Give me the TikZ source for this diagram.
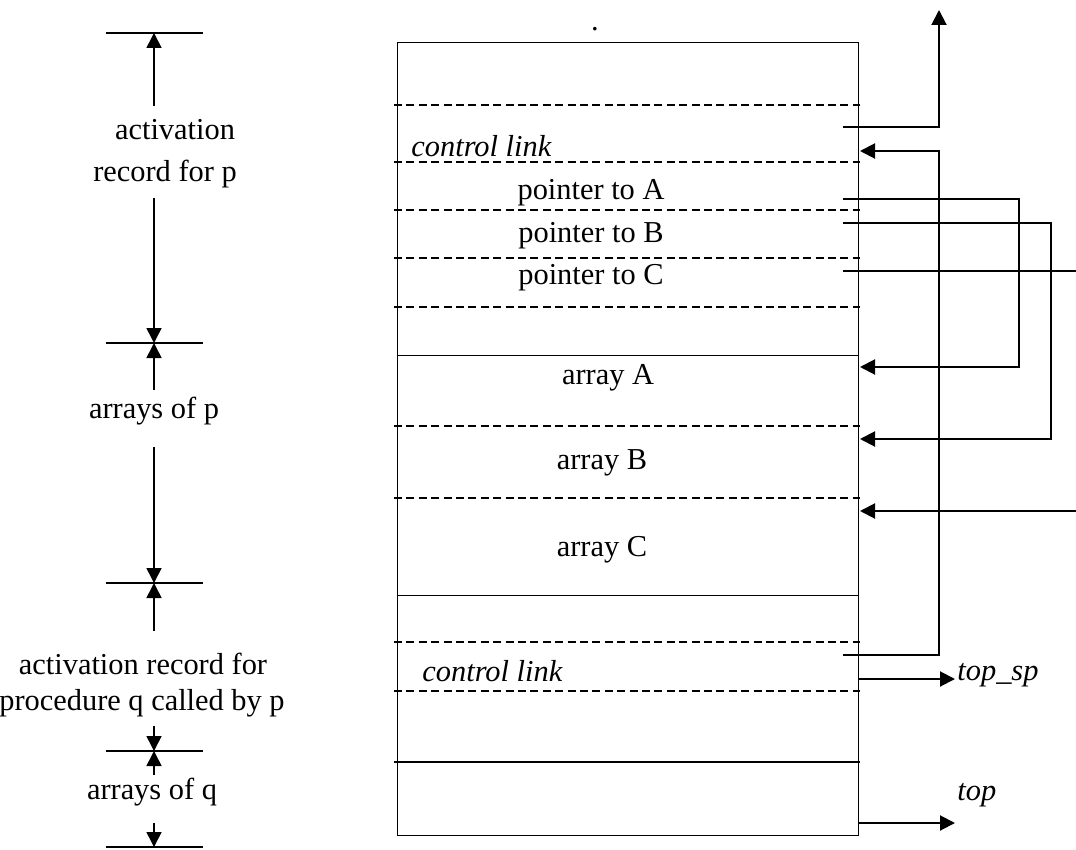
\documentclass[tikz,border=0pt]{standalone}
\usepackage{fontspec}
\setmainfont{Liberation Serif}
\usetikzlibrary{arrows.meta}
\begin{document}
\begin{tikzpicture}[x=0.5pt,y=-0.5pt,
  lbl/.style={inner sep=0pt, font=\fontsize{15.2}{18}\selectfont},
  ilbl/.style={inner sep=0pt, font=\fontsize{15.2}{18}\selectfont\itshape},
  sep/.style={line width=0.5pt},
  dsep/.style={line width=0.7pt, dash pattern=on 4pt off 2.2pt},
  conn/.style={line width=1pt},
  arr/.style={conn, -{Triangle[length=7.5pt,width=7.5pt]}},
  tick/.style={line width=0.8pt},
  dim/.style={line width=0.8pt, -{Triangle[length=7.5pt,width=7.5pt]}}
]
\useasboundingbox (0,0) rectangle (1076,850);

% ---- stack box ----
\draw[sep] (397,43) rectangle (858,835);
\foreach \yy in {105,162,210,258,307,426,498,642,691}
  \draw[dsep] (394,\yy) -- (860,\yy);
\foreach \yy in {355,595}
  \draw[sep] (397,\yy) -- (858,\yy);
\draw[line width=0.7pt] (394,762) -- (860,762);

% ---- texts in box ----
\node[lbl, anchor=base] (dot) at (595,31) {.};
\node[ilbl, anchor=base west] (cl1) at (411,157) {control link};
\node[lbl, anchor=base] (pA) at (591,200) {pointer to A};
\node[lbl, anchor=base] (pB) at (591,243) {pointer to B};
\node[lbl, anchor=base] (pC) at (591,285) {pointer to C};
\node[lbl, anchor=base] (aA) at (608,384) {array A};
\node[lbl, anchor=base] (aB) at (602,469) {array B};
\node[lbl, anchor=base] (aC) at (602,556) {array C};
\node[ilbl, anchor=base west] (cl2) at (422,681) {control link};
\node[ilbl, anchor=base west] (topsp) at (957,680) {top\_sp};
\node[ilbl, anchor=base west] (top) at (957,800) {top};

% ---- right connectors ----
\coordinate (s1) at (843,127);
\coordinate (s1up) at (939,10);
\draw[arr] (s1) -| (s1up);

\coordinate (s2) at (843,655);
\coordinate (s2c) at (939,151);
\coordinate (s2e) at (860,151);
\draw[arr] (s2) -| (s2c) -- (s2e);

\coordinate (sA) at (843,199);
\coordinate (sAc) at (1019,367);
\coordinate (sAe) at (860,367);
\draw[arr] (sA) -| (sAc) -- (sAe);

\coordinate (sB) at (843,223);
\coordinate (sBc) at (1051,439);
\coordinate (sBe) at (860,439);
\draw[arr] (sB) -| (sBc) -- (sBe);

\coordinate (sC) at (843,271);
\coordinate (sCe) at (1077,271);
\draw[conn] (sC) -- (sCe);

\coordinate (cIn) at (1077,511);
\coordinate (cInE) at (860,511);
\draw[arr] (cIn) -- (cInE);

\coordinate (tsp0) at (858,679);
\coordinate (tsp1) at (955,679);
\draw[arr] (tsp0) -- (tsp1);

\coordinate (tp0) at (858,823);
\coordinate (tp1) at (955,823);
\draw[arr] (tp0) -- (tp1);

% ---- left dimension markers ----
\foreach \yy in {33,343,583,751,847}
  \draw[tick] (106,\yy) -- (203,\yy);

\node[lbl, anchor=base] (lab1a) at (175,140) {activation};
\node[lbl, anchor=base] (lab1b) at (165,182) {record for p};
\node[lbl, anchor=base] (lab2) at (154,418) {arrays of p};
\node[lbl, anchor=base] (lab3a) at (143,674) {activation record for};
\node[lbl, anchor=base] (lab3b) at (142,710) {procedure q called by p};
\node[lbl, anchor=base] (lab4) at (152,799) {arrays of q};

\coordinate (d1a) at (154,106); \coordinate (d1b) at (154,33);
\coordinate (d2a) at (154,198); \coordinate (d2b) at (154,343);
\coordinate (d3a) at (154,390); \coordinate (d3b) at (154,343);
\coordinate (d4a) at (154,447); \coordinate (d4b) at (154,583);
\coordinate (d5a) at (154,631); \coordinate (d5b) at (154,583);
\coordinate (d6a) at (154,726); \coordinate (d6b) at (154,751);
\coordinate (d7a) at (154,775); \coordinate (d7b) at (154,751);
\coordinate (d8a) at (154,823); \coordinate (d8b) at (154,847);
\foreach \i in {1,...,8}
  \draw[dim] (d\i a) -- (d\i b);
\end{tikzpicture}
\end{document}
